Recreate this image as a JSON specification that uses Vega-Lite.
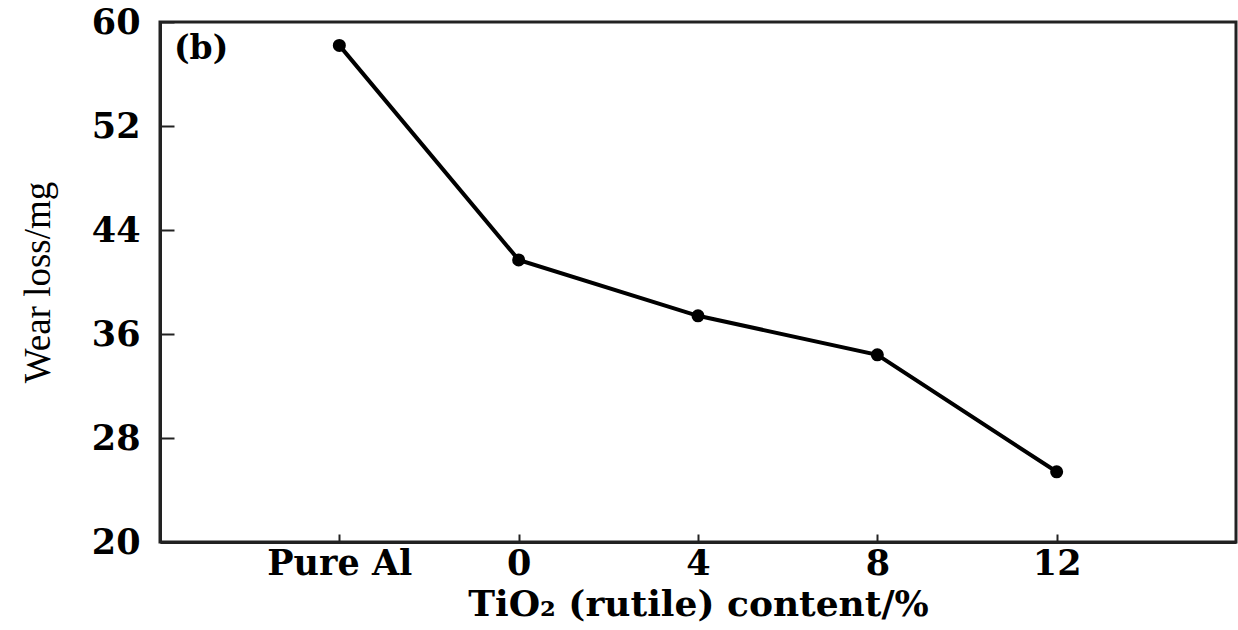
{
  "$schema": "https://vega.github.io/schema/vega-lite/v6.json",
  "width": 1076,
  "height": 520,
  "autosize": {"type": "none"},
  "padding": {"left": 160, "top": 22, "right": 2, "bottom": 88},
  "background": "white",
  "title": {
    "text": "(b)",
    "anchor": "start",
    "frame": "group",
    "orient": "top",
    "baseline": "top",
    "offset": -61,
    "dx": 14,
    "font": "DejaVu Serif",
    "fontSize": 33,
    "fontWeight": "bold",
    "color": "black"
  },
  "config": {
    "view": {"stroke": "#222", "strokeWidth": 3},
    "axis": {
      "domainColor": "#222",
      "domainWidth": 3,
      "tickColor": "#222",
      "tickWidth": 2,
      "grid": false,
      "labelFont": "DejaVu Serif",
      "labelFontWeight": "bold",
      "labelFontSize": 35,
      "labelColor": "black",
      "titleFont": "DejaVu Serif",
      "titleColor": "black"
    }
  },
  "data": {
    "values": [
      {"content": "Pure Al", "wear": 58.2},
      {"content": "0", "wear": 41.7},
      {"content": "4", "wear": 37.4},
      {"content": "8", "wear": 34.4},
      {"content": "12", "wear": 25.4}
    ]
  },
  "encoding": {
    "x": {
      "field": "content",
      "type": "ordinal",
      "sort": null,
      "scale": {"type": "point", "padding": 1},
      "axis": {
        "title": "TiO₂ (rutile) content/%",
        "titleFontSize": 36,
        "titleFontWeight": "bold",
        "titlePadding": 6,
        "labelAngle": 0,
        "tickSize": -8,
        "labelPadding": 12
      }
    },
    "y": {
      "field": "wear",
      "type": "quantitative",
      "scale": {"domain": [20, 60], "nice": false, "zero": false},
      "axis": {
        "title": "Wear loss/mg",
        "titleFont": "Liberation Serif",
        "titleFontSize": 37,
        "titleFontWeight": "normal",
        "titlePadding": 34,
        "values": [20, 28, 36, 44, 52, 60],
        "tickSize": -14,
        "labelPadding": 34
      }
    }
  },
  "layer": [
    {"mark": {"type": "line", "color": "black", "strokeWidth": 4}},
    {"mark": {"type": "point", "filled": true, "color": "black", "size": 170, "opacity": 1}}
  ]
}
